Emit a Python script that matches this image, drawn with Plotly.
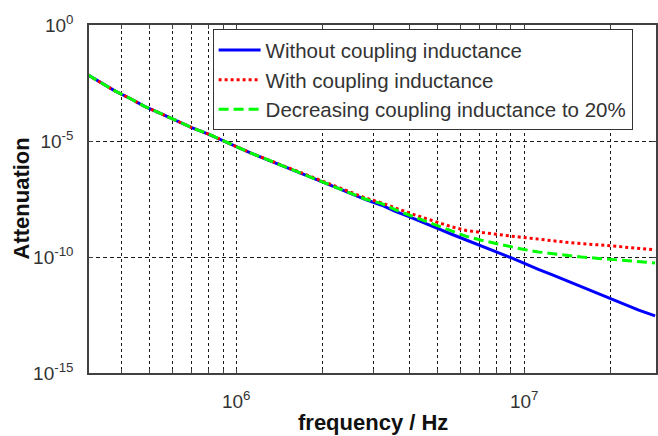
import math
import plotly.graph_objects as go

# ---- data ----
freq_hz = [3.05e5, 3.4e5, 3.8e5, 4.3e5, 4.8e5, 5.5e5, 6.2e5, 7e5, 8e5, 9e5,
           1e6, 1.12e6, 1.26e6, 1.41e6, 1.58e6, 1.78e6, 2e6, 2.24e6, 2.5e6, 2.8e6,
           3.2e6, 3.55e6, 4e6, 4.5e6, 5e6, 5.6e6, 6.3e6, 7.1e6, 8e6, 9e6,
           1e7, 1.12e7, 1.26e7, 1.41e7, 1.58e7, 1.78e7, 2e7, 2.24e7, 2.5e7, 2.85e7]

without_coupling = [7.08e-3, 3.31e-3, 1.41e-3, 6.61e-4, 3.09e-4, 1.48e-4, 7.41e-5, 3.80e-5, 2.00e-5, 1.07e-5,
                    5.75e-6, 3.09e-6, 1.74e-6, 9.77e-7, 5.50e-7, 3.09e-7, 1.70e-7, 9.55e-8, 5.37e-8, 3.02e-8,
                    1.70e-8, 9.55e-9, 5.37e-9, 3.02e-9, 1.70e-9, 9.55e-10, 5.25e-10, 2.95e-10, 1.66e-10, 9.33e-11,
                    5.25e-11, 2.95e-11, 1.66e-11, 9.33e-12, 5.13e-12, 2.88e-12, 1.62e-12, 9.12e-13, 5.13e-13, 2.88e-13]

with_coupling = [7.08e-3, 3.31e-3, 1.41e-3, 6.61e-4, 3.09e-4, 1.48e-4, 7.41e-5, 3.80e-5, 2.00e-5, 1.07e-5,
                 5.75e-6, 3.09e-6, 1.74e-6, 9.77e-7, 5.50e-7, 3.09e-7, 1.70e-7, 1.0e-7, 6.03e-8, 3.55e-8,
                 2.14e-8, 1.32e-8, 7.76e-9, 4.79e-9, 3.16e-9, 2.0e-9, 1.38e-9, 1.12e-9, 9.33e-10, 7.94e-10,
                 6.92e-10, 5.75e-10, 5.01e-10, 4.27e-10, 3.72e-10, 3.39e-10, 3.02e-10, 2.63e-10, 2.34e-10, 2.04e-10]

decreasing_20pct = [7.08e-3, 3.31e-3, 1.41e-3, 6.61e-4, 3.09e-4, 1.48e-4, 7.41e-5, 3.80e-5, 2.00e-5, 1.07e-5,
                    5.75e-6, 3.09e-6, 1.74e-6, 9.77e-7, 5.50e-7, 3.09e-7, 1.70e-7, 9.55e-8, 5.37e-8, 3.16e-8,
                    2.0e-8, 1.12e-8, 6.31e-9, 3.72e-9, 2.24e-9, 1.32e-9, 7.76e-10, 5.25e-10, 3.80e-10, 2.69e-10,
                    2.09e-10, 1.66e-10, 1.38e-10, 1.15e-10, 1.0e-10, 8.91e-11, 7.94e-11, 7.08e-11, 6.31e-11, 5.50e-11]

series_names = ["Without coupling inductance", "With coupling inductance",
                "Decreasing coupling inductance to 20%"]

x_tickvals = [4e5, 5e5, 6e5, 7e5, 8e5, 9e5, 1e6, 2e6, 3e6, 4e6, 5e6, 6e6, 7e6, 8e6, 9e6, 1e7, 2e7]
x_ticktext = ["", "", "", "", "", "", "10<sup>6</sup>", "", "", "", "", "", "", "", "", "10<sup>7</sup>", ""]
y_tickvals = [1, 1e-5, 1e-10, 1e-15]
y_ticktext = ["10<sup>0</sup>", "10<sup>-5</sup>", "10<sup>-10</sup>", "10<sup>-15</sup>"]

x_range_hz = [3.08e5, 2.87e7]
y_range_exp = [-15, 0]

FONT = "Liberation Sans, Arial, sans-serif"

fig = go.Figure()
fig.add_trace(go.Scatter(x=freq_hz, y=without_coupling, mode="lines", name=series_names[0],
                         line=dict(color="#0000ff", width=3)))
fig.add_trace(go.Scatter(x=freq_hz, y=with_coupling, mode="lines", name=series_names[1],
                         line=dict(color="#ff0000", width=3, dash="3px,3px")))
fig.add_trace(go.Scatter(x=freq_hz, y=decreasing_20pct, mode="lines", name=series_names[2],
                         line=dict(color="#00ff00", width=3, dash="10px,5px")))

fig.update_layout(
    width=658, height=436,
    margin=dict(l=89, r=0, t=25, b=63),
    paper_bgcolor="white", plot_bgcolor="white",
    font=dict(family=FONT, color="#333333"),
    showlegend=True,
    legend=dict(x=0.218, y=0.988, xanchor="left", yanchor="top",
                bgcolor="white", bordercolor="#333333", borderwidth=1,
                font=dict(size=20.5, color="#333333"), itemwidth=42,
                tracegroupgap=0),
    xaxis=dict(type="log", range=[math.log10(x_range_hz[0]), math.log10(x_range_hz[1])],
               tickvals=x_tickvals, ticktext=x_ticktext,
               ticks="inside", ticklen=4, tickcolor="#404040",
               showline=True, linecolor="#404040", linewidth=1.5, mirror="ticks",
               showgrid=True, gridcolor="#1a1a1a", gridwidth=1.3, griddash="3px,3px",
               tickfont=dict(size=19, color="#333333"), ticklabelstandoff=10, zeroline=False),
    yaxis=dict(type="log", range=y_range_exp,
               tickvals=y_tickvals, ticktext=y_ticktext,
               ticks="inside", ticklen=4, tickcolor="#404040",
               showline=True, linecolor="#404040", linewidth=1.5, mirror="ticks",
               showgrid=True, gridcolor="#1a1a1a", gridwidth=1.3, griddash="4px,3px",
               tickfont=dict(size=19, color="#333333"), ticklabelstandoff=10, zeroline=False),
    annotations=[
        dict(text="<b>Attenuation</b>", xref="paper", yref="paper", x=0, y=0.5,
             xanchor="center", yanchor="middle", xshift=-68.5, textangle=-90,
             showarrow=False, font=dict(size=22, color="#111111", family=FONT)),
        dict(text="<b>frequency / Hz</b>", xref="paper", yref="paper", x=0.5, y=0,
             xanchor="center", yanchor="middle", yshift=-49,
             showarrow=False, font=dict(size=22, color="#111111", family=FONT)),
    ],
)

fig.write_html("out.html")
